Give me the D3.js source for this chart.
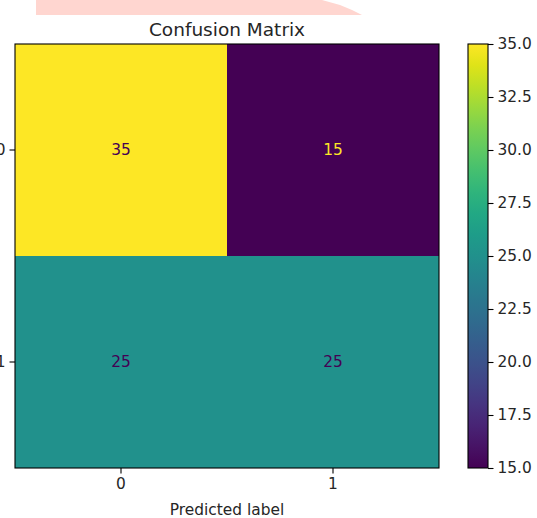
<!DOCTYPE html>
<html>
<head>
<meta charset="utf-8">
<script src="https://cdn.jsdelivr.net/npm/d3@7"></script>
<style>
  html, body { margin: 0; padding: 0; background: #fff; }
  svg { display: block; }
  text { font-family: "DejaVu Sans", sans-serif; fill: #262626; }
</style>
</head>
<body>
<svg id="chart" width="537" height="518"></svg>
<script>
// ---- data ----
const trueLabels = ["0", "1"];
const predLabels = ["0", "1"];
const matrixRow0 = [35, 15];
const matrixRow1 = [25, 25];
const colorbarTicks = [15.0, 17.5, 20.0, 22.5, 25.0, 27.5, 30.0, 32.5, 35.0];
const titleText = "Confusion Matrix";
const xLabelText = "Predicted label";

(function () {
const rows = [matrixRow0, matrixRow1];
const cells = [];
rows.forEach((r, i) => r.forEach((v, j) => cells.push({ t: trueLabels[i], p: predLabels[j], v })));

const svg = d3.select("#chart");

// decorative pink band at top
svg.append("polygon")
  .attr("points", "36,0 322,0 340,5 352,10 362,15 36,15")
  .attr("fill", "#ffd6d0");

const pL = 15, pR = 439, pT = 44, pB = 468;
const vmin = d3.min(cells, d => d.v), vmax = d3.max(cells, d => d.v);
const color = d3.scaleSequential(d3.interpolateViridis).domain([vmin, vmax]);

const x = d3.scaleBand().domain(predLabels).range([pL, pR]);
const y = d3.scaleBand().domain(trueLabels).range([pT, pB]);

svg.append("g").selectAll("rect").data(cells).join("rect")
  .attr("x", d => x(d.p)).attr("y", d => y(d.t))
  .attr("width", x.bandwidth()).attr("height", y.bandwidth())
  .attr("fill", d => color(d.v));

const thresh = (vmin + vmax) / 2;
svg.append("g").selectAll("text").data(cells).join("text")
  .attr("x", d => x(d.p) + x.bandwidth() / 2)
  .attr("y", d => y(d.t) + y.bandwidth() / 2)
  .attr("text-anchor", "middle").attr("dominant-baseline", "central")
  .style("font-size", "15.4px")
  .style("fill", d => d.v < thresh ? color(vmax) : color(vmin))
  .text(d => d.v);

// frame
svg.append("rect").attr("x", pL).attr("y", pT)
  .attr("width", pR - pL).attr("height", pB - pT)
  .attr("fill", "none").attr("stroke", "#000").attr("stroke-width", 1.1);

// axes
const xAxis = d3.axisBottom(x).tickSize(5.5).tickPadding(5);
const gx = svg.append("g").attr("transform", `translate(0,${pB})`).call(xAxis);
const yAxis = d3.axisLeft(y).tickSize(5.5).tickPadding(4);
const gy = svg.append("g").attr("transform", `translate(${pL},0)`).call(yAxis);
[gx, gy].forEach(g => {
  g.select(".domain").remove();
  g.selectAll("line").attr("stroke", "#000").attr("stroke-width", 1.1);
  g.selectAll("text").style("font-size", "15.4px").style("font-family", "DejaVu Sans").attr("fill", "#262626");
});

// title & label
svg.append("text").attr("x", (pL + pR) / 2).attr("y", 36)
  .attr("text-anchor", "middle").style("font-size", "18.5px").text(titleText);
svg.append("text").attr("x", (pL + pR) / 2).attr("y", 515)
  .attr("text-anchor", "middle").style("font-size", "15.4px").text(xLabelText);

// colorbar
const cbX = 468, cbW = 20;
const cbScale = d3.scaleLinear().domain([vmin, vmax]).range([pB, pT]);
const defs = svg.append("defs");
const grad = defs.append("linearGradient").attr("id", "cbgrad")
  .attr("x1", 0).attr("y1", 1).attr("x2", 0).attr("y2", 0);
d3.range(0, 1.0001, 0.05).forEach(t => {
  grad.append("stop").attr("offset", t).attr("stop-color", d3.interpolateViridis(t));
});
svg.append("rect").attr("x", cbX).attr("y", pT).attr("width", cbW).attr("height", pB - pT)
  .attr("fill", "url(#cbgrad)").attr("stroke", "#000").attr("stroke-width", 1.1);
const cbAxis = d3.axisRight(cbScale).tickValues(colorbarTicks).tickFormat(d3.format(".1f")).tickSize(5.5).tickPadding(4);
const gc = svg.append("g").attr("transform", `translate(${cbX + cbW},0)`).call(cbAxis);
gc.select(".domain").remove();
gc.selectAll("line").attr("stroke", "#000").attr("stroke-width", 1.1);
gc.selectAll("text").style("font-size", "15.4px").style("font-family", "DejaVu Sans").attr("fill", "#262626");
})();
</script>
</body>
</html>
